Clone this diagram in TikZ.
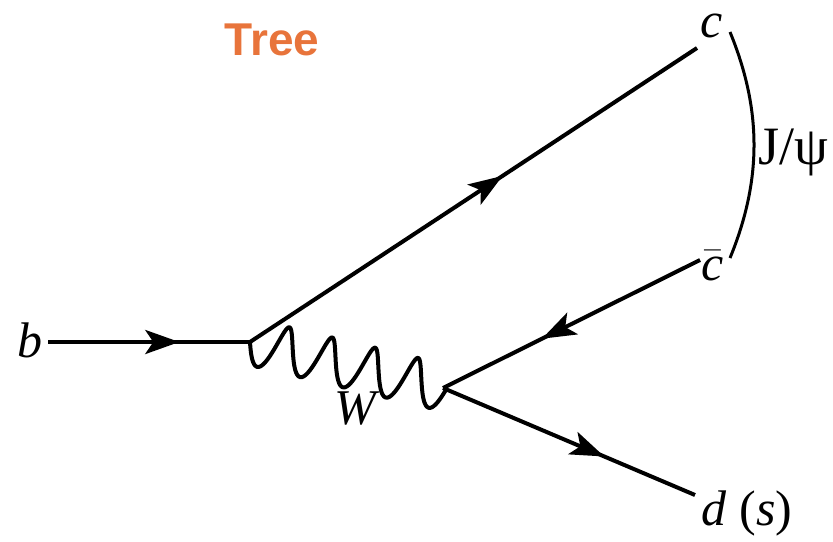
\documentclass[tikz,border=0pt]{standalone}
\usepackage{fontspec}
\setmainfont{Liberation Serif}
\newfontfamily\tfont{Liberation Sans}
\usetikzlibrary{arrows.meta,decorations.markings}
\definecolor{treeorange}{HTML}{E8743B}
\begin{document}
\begin{tikzpicture}[x=0.5pt,y=-0.5pt,
  fermion/.style={line width=2pt},
  boson/.style={line width=2pt, line join=round},
  lbl/.style={font=\fontsize{25}{28}\selectfont\itshape, inner sep=0pt},
  arr/.style={postaction={decorate},decoration={markings,mark=at position #1 with {\arrow{Stealth[length=17pt,width=12pt,inset=4pt]}}}},
  ]
\useasboundingbox (0,0) rectangle (833,541);
\coordinate (bstart) at (48,342);
\coordinate (v1) at (250,342);
\coordinate (v2) at (443,388);
\coordinate (cend) at (697,48);
\coordinate (cbend) at (700,260);
\coordinate (dend) at (695,495);
\coordinate (arcA) at (730,32);
\coordinate (arcB) at (730,258);
\node[lbl] (b) at (30,340) {b};
\node[lbl] (c) at (712,26) {c};
\node[lbl] (cb) at (713,266) {$\bar{\mbox{\itshape c}}$};
\node[lbl] (W) at (355,408) {W};
\node[lbl, font=\fontsize{25}{28}\selectfont] (ds) at (747,513) {\textit{d} (\textit{s})};
\node[inner sep=0pt, font=\fontsize{27}{30}\selectfont] (jpsi) at (793,152) {J/ψ};
\node[inner sep=0pt, text=treeorange, font=\tfont\bfseries\fontsize{23}{26}\selectfont] (tree) at (272,40) {Tree};
\draw[fermion, arr=0.65] (bstart) -- (v1);
\draw[fermion, arr=0.565] (v1) -- (cend);
\draw[fermion, arr=0.615] (cbend) -- (v2);
\draw[fermion, arr=0.64] (v2) -- (dend);
\draw[boson] plot[domain=0:1, samples=240, smooth]
  ({250+193*\x - 0.2319*23*sin(1620*\x) + 2*(1-cos(1620*\x))}, {342+46*\x + 0.9728*23*sin(1620*\x)});
\draw[line width=1.5pt] (arcA) .. controls (762,110) and (762,180) .. (arcB);
\end{tikzpicture}
\end{document}
